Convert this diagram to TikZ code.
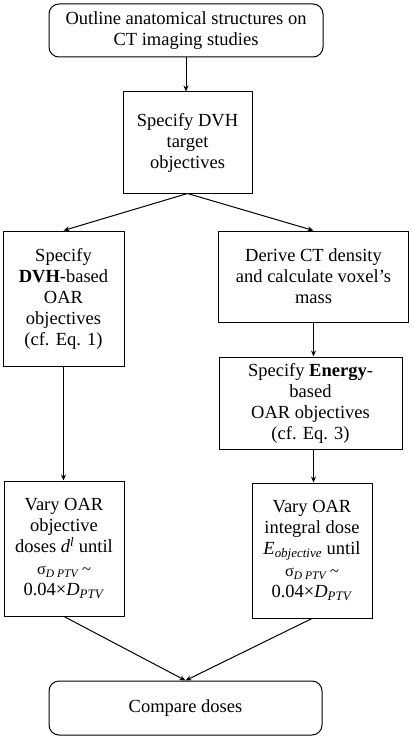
\documentclass[tikz,border=0pt]{standalone}
\usepackage{fontspec}
\setmainfont{Liberation Serif}
\usetikzlibrary{arrows.meta}
\begin{document}
\begin{tikzpicture}[x=1pt, y=-1pt]
    % Define styles
    \tikzset{
        stepbox/.style={draw, line width=1pt, inner sep=0pt, align=center, font=\fontsize{18.5}{21}\selectfont},
        roundbox/.style={stepbox, rounded corners=10pt},
        thickarrow/.style={-{Stealth[length=6pt, width=5pt]}, line width=1pt}
    }
    \useasboundingbox (0,0) rectangle (413,738);

    % Start and target objectives
    \node[roundbox, minimum width=274pt, minimum height=53pt] (outline) at (186,30.5) {Outline anatomical structures on\\CT imaging studies};
    \node[stepbox, minimum width=129pt, minimum height=101pt] (target) at (187.5,142.5) {Specify DVH\\target\\objectives};

    % Left branch: DVH-based
    \node[stepbox, minimum width=121pt, minimum height=135pt] (dvh) at (63.5,298.5) {Specify\\\textbf{DVH}-based\\OAR\\objectives\\(cf. Eq. 1)};
    \node[stepbox, minimum width=120pt, minimum height=135pt] (varydvh) at (64,548.5) {Vary OAR\\objective\\doses \textit{d}\textsuperscript{\textit{l}} until\\[1pt]{\fontsize{16.5}{18}\selectfont σ\textsubscript{\textit{D PTV}}\,\textasciitilde}\\0.04×\textit{D}\textsubscript{\textit{PTV}}};

    % Right branch: Energy-based
    \node[stepbox, minimum width=190pt, minimum height=91pt] (mass) at (313.5,276.5) {Derive CT density\\and calculate voxel’s\\mass};
    \node[stepbox, minimum width=183pt, minimum height=92pt] (energy) at (310.5,403) {Specify \textbf{Energy}-\\based\\OAR objectives\\(cf. Eq. 3)};
    \node[stepbox, minimum width=120pt, minimum height=135pt] (varyenergy) at (312,550.5) {Vary OAR\\integral dose\\\textit{E}\textsubscript{\textit{objective}} until\\[1pt]{\fontsize{16.5}{18}\selectfont σ\textsubscript{\textit{D PTV}}\,\textasciitilde}\\0.04×\textit{D}\textsubscript{\textit{PTV}}};

    % End
    \node[roundbox, minimum width=273pt, minimum height=54pt] (compare) at (185.5,708) {Compare doses};

    % Arrows
    \draw[thickarrow] (outline.south) -- (outline.south |- target.north);
    \draw[thickarrow] (target.south) -- (dvh.north);
    \draw[thickarrow] (target.south) -- (mass.north);
    \draw[thickarrow] (mass.south) -- (mass.south |- energy.north);
    \draw[thickarrow] (dvh.south) -- (dvh.south |- varydvh.north);
    \draw[thickarrow] (energy.south -| mass.south) -- (mass.south |- varyenergy.north);
    \draw[thickarrow] (varydvh.south) -- (compare.north);
    \draw[thickarrow] (varyenergy.south) -- (compare.north);

\end{tikzpicture}
\end{document}
